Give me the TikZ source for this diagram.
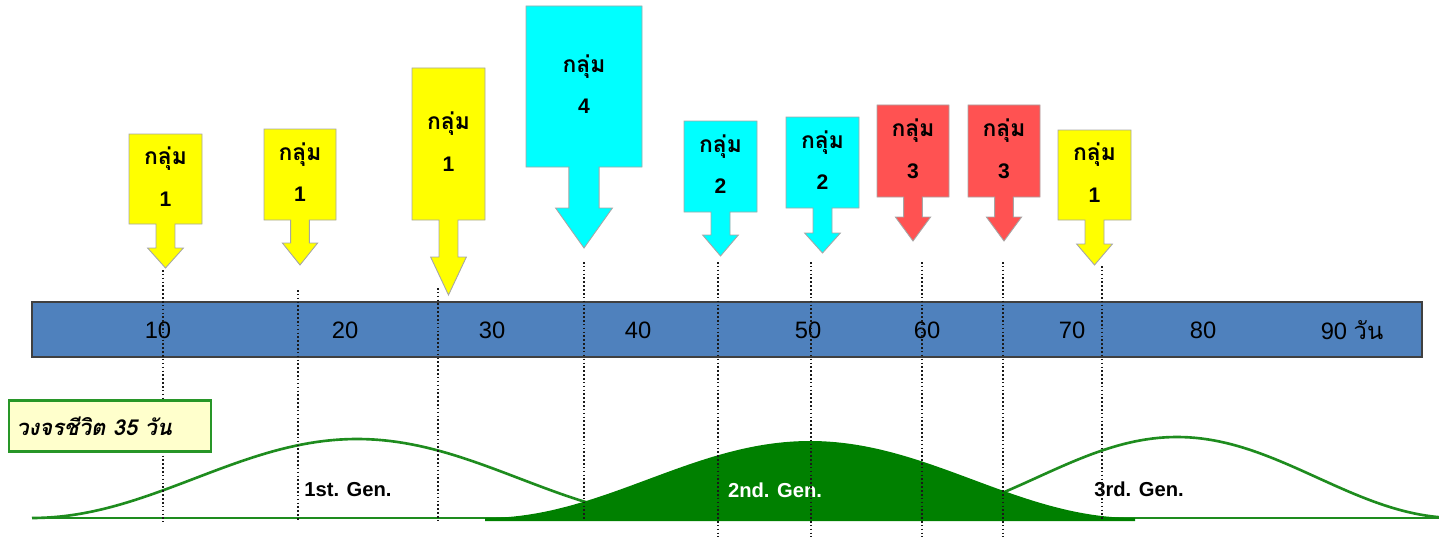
\documentclass[tikz,border=0pt]{standalone}
\usepackage{fontspec}
\setmainfont{Liberation Sans}
\newfontfamily\thaifont[Script=Thai]{Loma}
\usetikzlibrary{positioning}
\definecolor{grpyellow}{RGB}{255,255,0}
\definecolor{grpcyan}{RGB}{0,255,255}
\definecolor{grpred}{RGB}{255,82,82}
\definecolor{barblue}{RGB}{79,129,189}
\definecolor{genline}{RGB}{30,140,30}
\definecolor{genfill}{RGB}{0,128,0}
\definecolor{notefill}{RGB}{255,255,204}
\definecolor{noteline}{RGB}{40,150,40}
\tikzset{callbox/.style={draw=black!35,line width=0.5pt}}
\tikzset{grp/.style={font=\thaifont\bfseries\fontsize{13}{15}\selectfont,inner sep=0pt}}
\tikzset{num/.style={font=\bfseries\fontsize{12}{14}\selectfont,inner sep=0pt}}
\tikzset{day/.style={font=\fontsize{13.5}{16}\selectfont,text=black}}
\tikzset{gen/.style={draw=genline,line width=1.5pt}}
\tikzset{genlabel/.style={font=\bfseries\fontsize{11.5}{14}\selectfont}}
\tikzset{guide/.style={black!90,line width=0.9pt,dash pattern=on 0.9pt off 1.3pt}}
\tikzset{lifenote/.style={draw=noteline,line width=1.4pt,fill=notefill,minimum width=4.05cm,
    minimum height=1.02cm,text width=3.75cm,align=left,font=\thaifont\bfseries\itshape\fontsize{12.5}{15}\selectfont}}
% #1 name, #2 colour, #3 centre x, #4 half width, #5 top, #6 bottom, #7 head top, #8 tip, #9 group
\newcommand{\grpcall}[9]{%
  \pgfmathsetmacro\cshaft{0.26*#4}
  \pgfmathsetmacro\chead{0.49*#4}
  \pgfmathsetmacro\cmid{(#5+#6)/2}
  \draw[callbox,fill=#2] (#3-#4,#5) -- (#3+#4,#5) -- (#3+#4,#6) -- (#3+\cshaft,#6)
    -- (#3+\cshaft,#7) -- (#3+\chead,#7) -- (#3,#8) coordinate (#1-tip) -- (#3-\chead,#7)
    -- (#3-\cshaft,#7) -- (#3-\cshaft,#6) -- (#3-#4,#6) -- cycle;
  \node[grp] (#1-g) at (#3,\cmid-20) {กลุ่ม};
  \node[num] (#1-n) [below of=#1-g] {#9};
}

\begin{document}
\begin{tikzpicture}[x=0.02cm,y=-0.02cm,node distance=0.8cm]
  \useasboundingbox (0,0) rectangle (1439,537);
  % groups
  \grpcall{c1}{grpyellow}{165.5}{36.5}{134}{224}{248}{268}{1}
  \grpcall{c2}{grpyellow}{300}{36}{129}{220}{243}{265}{1}
  \grpcall{c3}{grpyellow}{448.5}{36.5}{68}{220}{257}{295}{1}
  \grpcall{c4}{grpcyan}{584}{58}{6}{167}{208}{248}{4}
  \grpcall{c5}{grpcyan}{720.5}{36.5}{121}{212}{235}{256}{2}
  \grpcall{c6}{grpcyan}{822.5}{36.5}{117}{208}{233}{253}{2}
  \grpcall{c7}{grpred}{913}{36}{105}{197}{217}{241}{3}
  \grpcall{c8}{grpred}{1004}{36}{105}{197}{217}{241}{3}
  \grpcall{c9}{grpyellow}{1094.5}{36.5}{130}{220}{244}{265}{1}
  % day scale
  \draw[fill=barblue,draw=black!75,line width=0.6pt] (32,302) rectangle (1422,357);
  \foreach \x/\d [count=\i] in {158/10,345/20,492/30,638/40,808/50,927/60,1072/70,1203/80}
    \node[day] (day\i) at (\x,330) {\d};
  \node[day] (day9) at (1352,330) {90 {\thaifont วัน}};
  % generations
  \draw[gen] plot[domain=32:682,samples=90] (\x,{518-79*(1+cos((\x-357)/325*180))/2});
  \draw[gen] plot[domain=897:1439,samples=90] (\x,{518-81*(1+cos((\x-1177)/280*180))/2});
  \draw[gen] (32,518) -- (1439,518);
  \fill[genfill] plot[domain=485:1135,samples=90] (\x,{518-77*(1+cos((\x-810)/325*180))/2})
    -- (1135,521) -- (485,521) -- cycle;
  \node[genlabel] (gen1) at (348,490) {1st. Gen.};
  \node[genlabel,text=white] (gen2) at (775,490) {2nd. Gen.};
  \node[genlabel] (gen3) at (1139,489) {3rd. Gen.};
  % guides
  \foreach \x/\ya/\yb [count=\i] in {163/270/522,298/290/520,438/288/520,584/262/520,
      718/262/537,811/262/537,922/262/537,1003/262/537,1102/266/520}{
    \coordinate (g\i-top) at (\x,\ya);
    \coordinate (g\i-bot) at (\x,\yb);
    \draw[guide] (g\i-top) -- (g\i-bot);
  }
  \node[lifenote] (life) at (110,426) {วงจรชีวิต 35 วัน};
\end{tikzpicture}
\end{document}
